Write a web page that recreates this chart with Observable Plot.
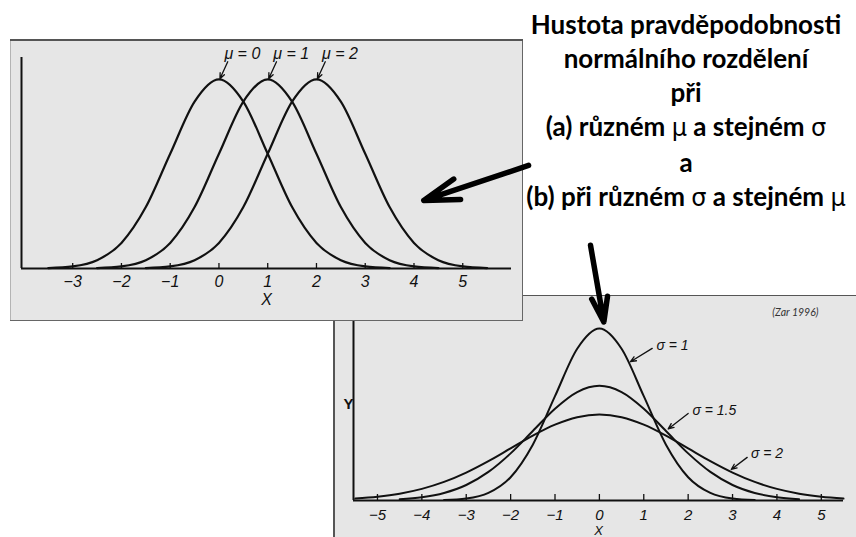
<!DOCTYPE html>
<html>
<head>
<meta charset="utf-8">
<script src="https://cdn.jsdelivr.net/npm/d3@7"></script>
<script src="https://cdn.jsdelivr.net/npm/@observablehq/plot@0.6"></script>
<style>
  html, body { margin: 0; padding: 0; background: #fff; overflow: hidden; }
  #page { position: relative; width: 856px; height: 537px; overflow: hidden; background: #fff; }
  .panel { position: absolute; background: #e6e6e6; }
  #panelA { left: 10px; top: 39px; width: 513px; height: 282px; z-index: 2;
            box-shadow: inset 0 2px 0 #555, inset -1px -1px 0 #666, inset 1px 0 0 #b4b4b4; }
  #panelB { left: 333px; top: 295px; width: 523px; height: 242px; z-index: 1;
            box-shadow: inset 2px 1px 0 #555; }
  .panel svg { position: absolute; left: 0; top: 0; overflow: visible; background: transparent; max-width: none; }
  #title { position: absolute; left: 686px; top: 7px; transform: translateX(-50%); z-index: 3;
           white-space: nowrap; text-align: center; color: #000;
           font: bold 26px Lato, "Open Sans", sans-serif; line-height: 34px; }
  #title .greek { font-family: "DejaVu Sans", sans-serif; font-weight: normal; font-size: 24px; }
</style>
</head>
<body>
<div id="page">
  <div id="panelA" class="panel"></div>
  <div id="panelB" class="panel"></div>
  <div id="title">Hustota pravděpodobnosti<br>normálního rozdělení<br>při<br>(a) různém <span class="greek">μ</span> a stejném <span class="greek">σ</span><br>a<br>(b) při různém <span class="greek">σ</span> a stejném <span class="greek">μ</span></div>
</div>
<script>
// (a) three densities with the same σ = 1 and means μ = 0, 1, 2
const muValues = [0, 1, 2];
// density of the σ = 1 curve at offsets from its mean
const offsetsSigma1 = [-3.5, -3, -2.5, -2, -1.5, -1, -0.5, 0, 0.5, 1, 1.5, 2, 2.5, 3, 3.5];
const densitySigma1 = [0.0009, 0.0044, 0.0175, 0.054, 0.1295, 0.242, 0.352, 0.399, 0.352, 0.242, 0.1295, 0.054, 0.0175, 0.0044, 0.0009];
const xTicksA = [-3, -2, -1, 0, 1, 2, 3, 4, 5];

// (b) three densities with the same μ = 0 and σ = 1, 1.5, 2
const sigmaValues = [1, 1.5, 2];
const xSigma1 = offsetsSigma1;
const ySigma1 = densitySigma1;
const xSigma15 = [-4.5, -4, -3.5, -3, -2.5, -2, -1.5, -1, -0.5, 0, 0.5, 1, 1.5, 2, 2.5, 3, 3.5, 4, 4.5];
const ySigma15 = [0.003, 0.0076, 0.0175, 0.036, 0.0663, 0.1093, 0.1613, 0.213, 0.2516, 0.266, 0.2516, 0.213, 0.1613, 0.1093, 0.0663, 0.036, 0.0175, 0.0076, 0.003];
const xSigma2 = [-5.5, -5, -4.5, -4, -3.5, -3, -2.5, -2, -1.5, -1, -0.5, 0, 0.5, 1, 1.5, 2, 2.5, 3, 3.5, 4, 4.5, 5, 5.5];
const ySigma2 = [0.0045, 0.0088, 0.0159, 0.027, 0.0431, 0.0648, 0.0913, 0.121, 0.1506, 0.176, 0.1933, 0.1995, 0.1933, 0.176, 0.1506, 0.121, 0.0913, 0.0648, 0.0431, 0.027, 0.0159, 0.0088, 0.0045];
const xTicksB = [-5, -4, -3, -2, -1, 0, 1, 2, 3, 4, 5];
const source = "(Zar 1996)";

// tables for Plot
const curvesA = muValues.flatMap(mu =>
  offsetsSigma1.map((o, i) => ({mu, x: mu + o, y: densitySigma1[i]})));
const seriesB = [[xSigma1, ySigma1], [xSigma15, ySigma15], [xSigma2, ySigma2]];
const curvesB = sigmaValues.flatMap((sigma, k) =>
  seriesB[k][0].map((x, i) => ({sigma, x, y: seriesB[k][1][i]})));

const ink = "#111";
const axisFont = "'Liberation Sans', Arial, Helvetica, sans-serif";

// panel (a)
const xMinA = -4.05;
const plotA = Plot.plot({
  width: 513, height: 282,
  marginLeft: 11, marginRight: 12, marginTop: 18, marginBottom: 53,
  x: {domain: [xMinA, 6]},
  y: {domain: [0, 0.445], axis: null},
  style: {background: "transparent", fontFamily: axisFont, fontSize: "16px", fontStyle: "italic", overflow: "visible", color: ink},
  marks: [
    Plot.line(curvesA, {x: "x", y: "y", z: "mu", stroke: ink, strokeWidth: 2.2, curve: "monotone-x"}),
    Plot.ruleX([xMinA], {stroke: ink, strokeWidth: 2}),
    Plot.ruleY([0], {stroke: ink, strokeWidth: 2}),
    Plot.axisX({ticks: xTicksA, tickSize: -5, tickPadding: 12, strokeWidth: 1.3, fontSize: 16, label: null}),
    Plot.text(["X"], {text: d => d, frameAnchor: "bottom", dy: 36, fontSize: 16, fill: ink}),
    // μ call-outs with small arrows to each peak
    Plot.text(muValues, {x: d => d + 0.48, y: 0.4527, text: d => `μ = ${d}`, fontSize: 16, fill: ink}),
    Plot.arrow(muValues, {x1: d => d + 0.18, y1: 0.436, x2: d => d + 0.02, y2: 0.4, stroke: ink, strokeWidth: 1.3, headLength: 7, headAngle: 45}),
    // pointer from the heading toward this panel
    Plot.arrow([0], {x1: 6.35, y1: 0.2174, x2: 4.2, y2: 0.1435, stroke: "#000", strokeWidth: 5.5, headLength: 18, headAngle: 34})
  ]
});
document.getElementById("panelA").append(plotA);

// panel (b)
const xMinB = -5.54;
const sigmaCallouts = [
  {label: "σ = 1",   tx: 1.24, ty: 0.36,  x1: 1.19, y1: 0.353, x2: 0.70, y2: 0.322},
  {label: "σ = 1.5", tx: 2.05, ty: 0.209, x1: 2.0,  y1: 0.202, x2: 1.55, y2: 0.166},
  {label: "σ = 2",   tx: 3.37, ty: 0.109, x1: 3.33, y1: 0.1,   x2: 2.97, y2: 0.072}
];
const plotB = Plot.plot({
  width: 523, height: 242,
  marginLeft: 20, marginRight: 13, marginTop: 8, marginBottom: 37,
  x: {domain: [xMinB, 5.5]},
  y: {domain: [0, 0.457], axis: null},
  style: {background: "transparent", fontFamily: axisFont, fontSize: "15px", fontStyle: "italic", overflow: "visible", color: ink},
  marks: [
    Plot.line(curvesB, {x: "x", y: "y", z: "sigma", stroke: ink, strokeWidth: 2, curve: "monotone-x"}),
    Plot.ruleX([xMinB], {stroke: ink, strokeWidth: 2}),
    Plot.ruleY([0], {stroke: ink, strokeWidth: 2}),
    Plot.axisX({ticks: xTicksB, tickSize: -6, tickPadding: 15, strokeWidth: 1.3, fontSize: 15, label: null}),
    Plot.text(["Y"], {text: d => d, frameAnchor: "left", dx: -10, dy: 2, fontStyle: "normal", fontWeight: "bold", fontSize: 15, fill: ink}),
    Plot.text(["X"], {text: d => d, frameAnchor: "bottom", dy: 34, fontSize: 13, fill: ink}),
    Plot.text(sigmaCallouts, {x: "tx", y: "ty", text: "label", textAnchor: "start", dx: 2, fontSize: 14, fill: ink}),
    Plot.arrow(sigmaCallouts, {x1: "x1", y1: "y1", x2: "x2", y2: "y2", stroke: ink, strokeWidth: 1.3, headLength: 7, headAngle: 45}),
    Plot.text([source], {text: d => d, frameAnchor: "top-right", dx: -25, dy: 5, fontFamily: "Lato, sans-serif", fontSize: 10.5, fill: "#333"}),
    // pointer from the heading down to this panel
    Plot.arrow([0], {x1: -0.2, y1: 0.592, x2: 0.1, y2: 0.414, stroke: "#000", strokeWidth: 5.5, headLength: 16, headAngle: 36})
  ]
});
document.getElementById("panelB").append(plotB);
</script>
</body>
</html>
